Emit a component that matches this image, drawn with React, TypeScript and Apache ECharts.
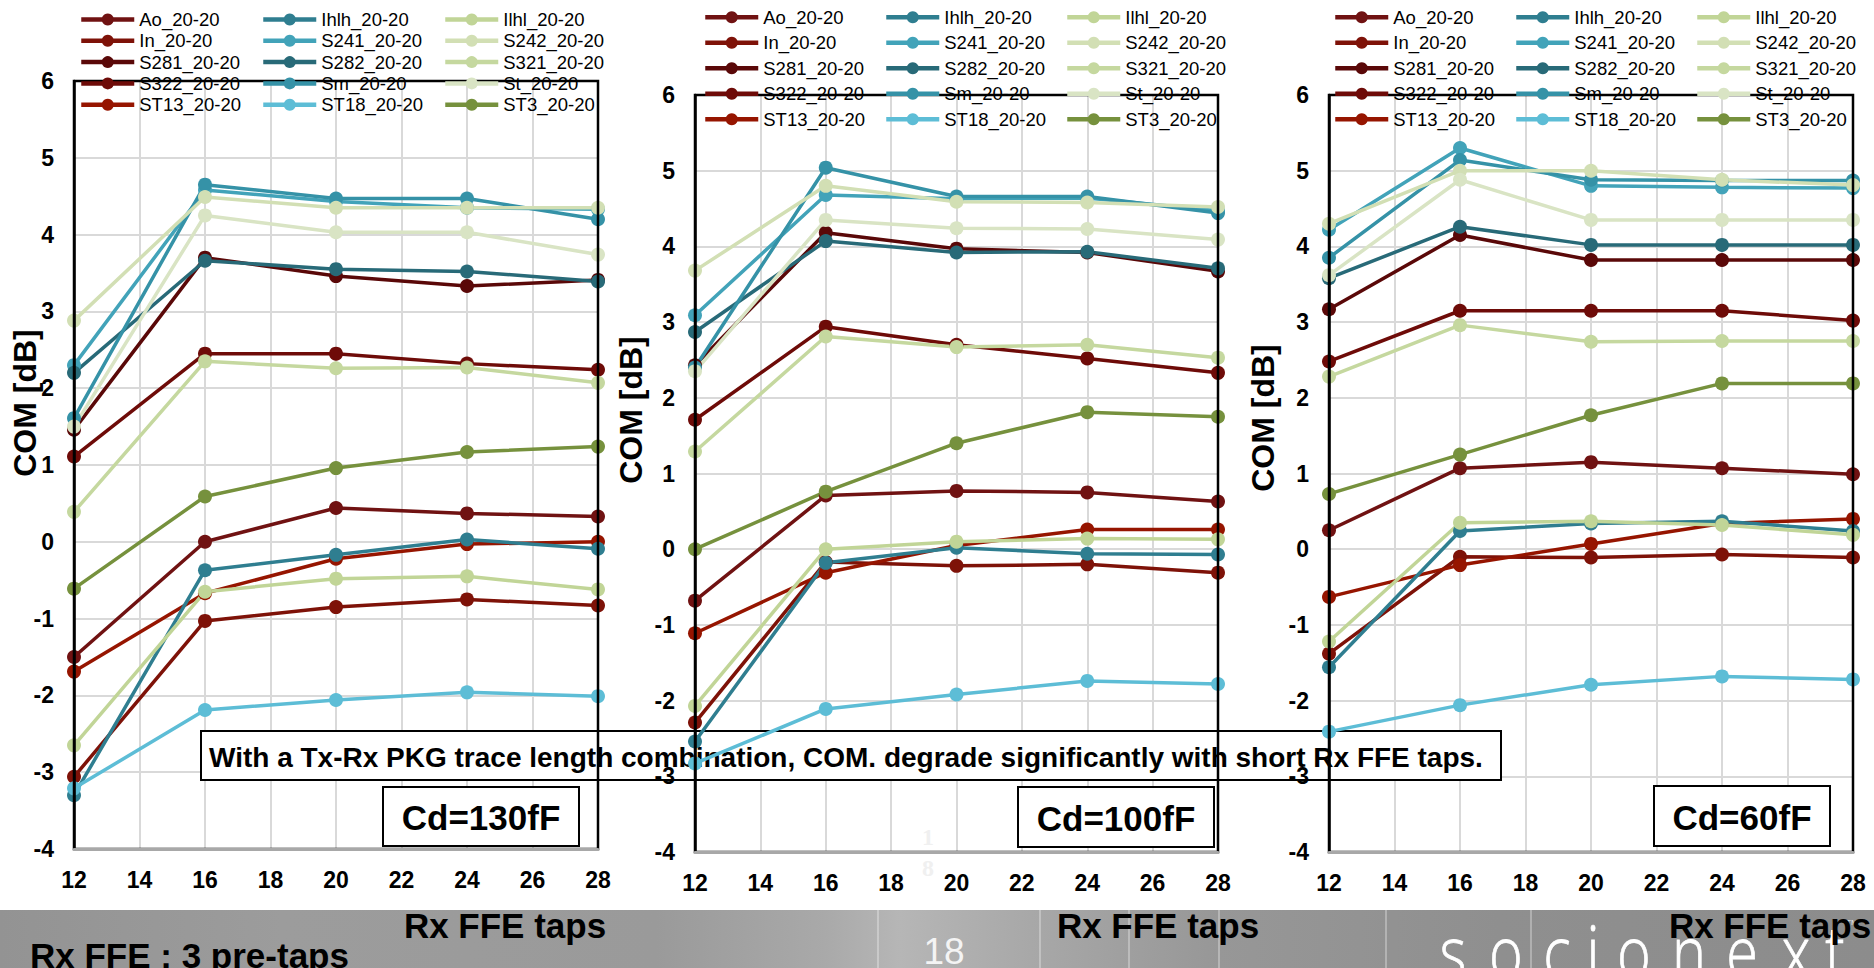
import React, { useEffect, useRef } from "react";
import * as echarts from "echarts";

// ---------------- data ----------------
const taps = [12, 16, 20, 24, 28];
const xTicks = { min: 12, max: 28, step: 2 };
const yTicks = { min: -4, max: 6, step: 1 };

const seriesNames = [
  "Ao_20-20", "In_20-20", "S281_20-20", "S322_20-20", "ST13_20-20",
  "Ihlh_20-20", "S241_20-20", "S282_20-20", "Sm_20-20", "ST18_20-20",
  "Ilhl_20-20", "S242_20-20", "S321_20-20", "St_20-20", "ST3_20-20",
];
const seriesColors = [
  "#701212", "#7E1208", "#5A0808", "#6E0B08", "#961500",
  "#2F7E90", "#42A3B9", "#286A78", "#3592A7", "#5DBDD6",
  "#C1D597", "#D2DFB4", "#C5D89F", "#D9E4C4", "#76913D",
];

// COM [dB] per series (same order as seriesNames), at taps 12,16,20,24,28
const com130: number[][] = [
  [-1.50, 0.00, 0.44, 0.37, 0.33],
  [-3.06, -1.03, -0.85, -0.75, -0.83],
  [1.46, 3.70, 3.46, 3.33, 3.41],
  [1.11, 2.45, 2.45, 2.32, 2.24],
  [-1.69, -0.67, -0.22, -0.03, 0.00],
  [-3.30, -0.37, -0.17, 0.03, -0.09],
  [2.30, 4.58, 4.43, 4.35, 4.33],
  [2.20, 3.66, 3.55, 3.52, 3.39],
  [1.61, 4.65, 4.47, 4.47, 4.20],
  [-3.21, -2.19, -2.06, -1.96, -2.01],
  [-2.65, -0.65, -0.48, -0.45, -0.62],
  [2.88, 4.49, 4.35, 4.35, 4.35],
  [0.39, 2.35, 2.26, 2.27, 2.07],
  [1.50, 4.25, 4.03, 4.03, 3.74],
  [-0.61, 0.59, 0.96, 1.17, 1.24],
];
const com100: number[][] = [
  [-0.68, 0.71, 0.77, 0.75, 0.63],
  [-2.29, -0.17, -0.22, -0.20, -0.31],
  [2.43, 4.18, 3.97, 3.92, 3.67],
  [1.71, 2.94, 2.70, 2.52, 2.33],
  [-1.11, -0.31, 0.05, 0.26, 0.26],
  [-2.54, -0.18, 0.02, -0.06, -0.07],
  [3.09, 4.68, 4.63, 4.64, 4.47],
  [2.87, 4.07, 3.92, 3.93, 3.71],
  [2.40, 5.04, 4.66, 4.66, 4.44],
  [-2.83, -2.11, -1.92, -1.74, -1.78],
  [-2.07, 0.00, 0.10, 0.14, 0.13],
  [3.68, 4.80, 4.59, 4.58, 4.52],
  [1.29, 2.81, 2.67, 2.70, 2.53],
  [2.35, 4.35, 4.24, 4.23, 4.09],
  [0.00, 0.76, 1.40, 1.81, 1.75],
];
const com60: number[][] = [
  [0.25, 1.07, 1.15, 1.07, 0.99],
  [-1.38, -0.10, -0.11, -0.07, -0.11],
  [3.17, 4.15, 3.82, 3.82, 3.82],
  [2.48, 3.15, 3.15, 3.15, 3.02],
  [-0.63, -0.21, 0.07, 0.34, 0.40],
  [-1.56, 0.24, 0.34, 0.37, 0.24],
  [4.22, 5.30, 4.80, 4.78, 4.77],
  [3.58, 4.26, 4.02, 4.02, 4.02],
  [3.85, 5.14, 4.88, 4.87, 4.87],
  [-2.41, -2.06, -1.79, -1.68, -1.72],
  [-1.22, 0.35, 0.37, 0.32, 0.19],
  [4.30, 5.00, 5.00, 4.88, 4.81],
  [2.28, 2.96, 2.74, 2.75, 2.75],
  [3.62, 4.88, 4.35, 4.35, 4.35],
  [0.73, 1.25, 1.77, 2.19, 2.19],
];
const panelData = [com130, com100, com60];
const panelLabels = ["Cd=130fF", "Cd=100fF", "Cd=60fF"];
const yAxisTitle = "COM [dB]";
const xAxisTitle = "Rx FFE taps";
const noteText = "With a Tx-Rx PKG trace length combination, COM. degrade significantly with short Rx FFE taps.";
const footerText = "Rx FFE : 3 pre-taps";
const pageNumber = "18";
const logoLetters = ["s", "o", "c", "i", "o", "n", "e", "x", "t"];

// ---------------- layout ----------------
const FONT = "'Liberation Sans', Arial, sans-serif";
const panelsLayout = [
  { left: 74, top: 81, width: 524, height: 768, legendLeft: [79, 261, 443], legendTop: 10, legendGap: 2.3,
    yTitle: [25, 403], xTitle: [505, 925], box: [383, 787, 196, 59] },
  { left: 695, top: 95, width: 523, height: 757, legendLeft: [703, 884, 1065], legendTop: 7.7, legendGap: 6.5,
    yTitle: [631, 410], xTitle: [1158, 925], box: [1018, 787, 196, 60] },
  { left: 1329, top: 95, width: 524, height: 757, legendLeft: [1333, 1514, 1695], legendTop: 7.7, legendGap: 6.5,
    yTitle: [1263, 418], xTitle: [1770, 925], box: [1654, 786, 176, 60] },
];
const logoX = [1453, 1506, 1557, 1593, 1634, 1689, 1742, 1796, 1835];

export default function App() {
  const ref = useRef<HTMLDivElement>(null);

  useEffect(() => {
    if (!ref.current) return;
    const chart = echarts.init(ref.current, undefined, { renderer: "svg" });

    const grids: any[] = [];
    const xAxes: any[] = [];
    const yAxes: any[] = [];
    const series: any[] = [];
    const legends: any[] = [];
    const graphics: any[] = [];

    panelsLayout.forEach((p, pi) => {
      grids.push({
        left: p.left, top: p.top, width: p.width, height: p.height,
        show: true, borderColor: "#000", borderWidth: 2.5, backgroundColor: "transparent", z: 3,
      });
      // axis set A: split lines only (below annotation boxes)
      xAxes.push({
        type: "value", gridIndex: pi, min: xTicks.min, max: xTicks.max, interval: xTicks.step, position: "bottom", z: 0,
        axisLine: { show: false }, axisTick: { show: false }, axisLabel: { show: false },
        splitLine: { show: true, lineStyle: { color: "#D9D9D9", width: 2 } },
      });
      yAxes.push({
        type: "value", gridIndex: pi, min: yTicks.min, max: yTicks.max, interval: yTicks.step, position: "left", z: 0,
        axisLine: { show: false }, axisTick: { show: false }, axisLabel: { show: false },
        splitLine: { show: true, lineStyle: { color: "#D9D9D9", width: 2 } },
      });
      // axis set B: lines and labels (above boxes)
      xAxes.push({
        type: "value", gridIndex: pi, min: xTicks.min, max: xTicks.max, interval: xTicks.step, position: "bottom", z: 4,
        axisLine: { show: true, onZero: false, lineStyle: { color: "#A8A8A8", width: 3 } },
        axisTick: { show: false }, splitLine: { show: false },
        axisLabel: { show: true, margin: 19, color: "#000", fontSize: 23, fontWeight: "bold", fontFamily: FONT },
      });
      yAxes.push({
        type: "value", gridIndex: pi, min: yTicks.min, max: yTicks.max, interval: yTicks.step, position: "left", z: 4,
        axisLine: { show: true, onZero: false, lineStyle: { color: "#000", width: 2.5 } },
        axisTick: { show: false }, splitLine: { show: false },
        axisLabel: { show: true, margin: 20, color: "#000", fontSize: 23, fontWeight: "bold", fontFamily: FONT },
      });

      panelData[pi].forEach((vals, si) => {
        series.push({
          type: "line",
          name: seriesNames[si],
          xAxisIndex: pi * 2 + 1,
          yAxisIndex: pi * 2 + 1,
          data: taps.map((t, k) => [t, vals[k]]),
          symbol: "circle",
          symbolSize: 14,
          showSymbol: true,
          z: 2,
          lineStyle: { color: seriesColors[si], width: 3.5 },
          itemStyle: { color: seriesColors[si] },
          emphasis: { disabled: true },
        });
      });

      for (let c = 0; c < 3; c++) {
        legends.push({
          orient: "vertical",
          left: p.legendLeft[c],
          top: p.legendTop,
          padding: 0,
          itemGap: p.legendGap,
          itemWidth: 53,
          itemHeight: 15,
          selectedMode: false,
          data: seriesNames.slice(c * 5, c * 5 + 5),
          lineStyle: { width: 4.5 },
          textStyle: { fontSize: 18.5, fontFamily: FONT, color: "#000", lineHeight: 18 },
          z: 6,
        });
      }

      graphics.push({
        type: "text", x: p.yTitle[0], y: p.yTitle[1], rotation: Math.PI / 2, z: 6,
        style: { text: yAxisTitle, fontSize: 32, fontWeight: "bold", fontFamily: FONT, fill: "#000", align: "center", verticalAlign: "middle" },
      });
      graphics.push({
        type: "rect", z: 1,
        shape: { x: p.box[0], y: p.box[1], width: p.box[2], height: p.box[3] },
        style: { fill: "#fff", stroke: "#000", lineWidth: 2 },
      });
      graphics.push({
        type: "text", x: p.box[0] + p.box[2] / 2, y: p.box[1] + p.box[3] / 2 + 1, z: 1,
        style: { text: panelLabels[pi], fontSize: 35, fontWeight: "bold", fontFamily: FONT, fill: "#000", align: "center", verticalAlign: "middle" },
      });
    });

    // annotation box
    graphics.push({
      type: "rect", z: 1,
      shape: { x: 201, y: 731, width: 1300, height: 49 },
      style: { fill: "#fff", stroke: "#000", lineWidth: 2 },
    });
    graphics.push({
      type: "text", x: 209, y: 757, z: 1,
      style: { text: noteText, fontSize: 28, fontWeight: "bold", fontFamily: FONT, fill: "#000", align: "left", verticalAlign: "middle" },
    });

    // faint ghost page number inside middle chart
    graphics.push({
      type: "text", x: 928, y: 837, z: 1,
      style: { text: "1", fontSize: 24, fontWeight: "bold", fontFamily: "'Liberation Serif', serif", fill: "#F0F0F0", align: "center", verticalAlign: "middle" },
    });
    graphics.push({
      type: "text", x: 928, y: 868, z: 1,
      style: { text: "8", fontSize: 24, fontWeight: "bold", fontFamily: "'Liberation Serif', serif", fill: "#F0F0F0", align: "center", verticalAlign: "middle" },
    });

    // bottom band
    graphics.push({
      type: "rect", z: 5,
      shape: { x: 0, y: 910, width: 1874, height: 58 },
      style: {
        fill: new echarts.graphic.LinearGradient(0, 0, 1, 0, [
          { offset: 0, color: "#939393" },
          { offset: 0.15, color: "#9C9C9C" },
          { offset: 0.35, color: "#9A9A9A" },
          { offset: 0.44, color: "#A9A9A9" },
          { offset: 0.48, color: "#B6B6B6" },
          { offset: 0.55, color: "#A8A8A8" },
          { offset: 0.65, color: "#979797" },
          { offset: 0.8, color: "#8F8F8F" },
          { offset: 1, color: "#8C8C8C" },
        ]),
      },
    });
    [878, 1040, 1129, 1219, 1386, 1531].forEach((lx) => {
      graphics.push({
        type: "line", z: 5,
        shape: { x1: lx, y1: 910, x2: lx, y2: 968 },
        style: { stroke: "rgba(255,255,255,0.3)", lineWidth: 2 },
      });
    });
    graphics.push({
      type: "text", x: 30, y: 955, z: 7,
      style: { text: footerText, fontSize: 35, fontWeight: "bold", fontFamily: FONT, fill: "#000", align: "left", verticalAlign: "middle" },
    });
    graphics.push({
      type: "text", x: 944, y: 951, z: 7,
      style: { text: pageNumber, fontSize: 37, fontWeight: "normal", fontFamily: FONT, fill: "#F4F4F4", align: "center", verticalAlign: "middle" },
    });
    logoLetters.forEach((ch, i) => {
      graphics.push({
        type: "text", x: logoX[i], y: 986, z: 6, scaleX: 0.8, scaleY: 1,
        style: { text: ch, fontSize: 72, fontWeight: 300, fontFamily: "'Open Sans', 'Noto Sans', sans-serif", fill: "#FFFFFF", stroke: "#FFFFFF", lineWidth: 0.8, align: "center", verticalAlign: "bottom" },
      });
    });
    graphics.push({
      type: "text", x: 1852, y: 922, z: 6,
      style: { text: "TM", fontSize: 8, fontFamily: FONT, fill: "#E8E8E8", align: "center", verticalAlign: "middle" },
    });
    panelsLayout.forEach((p) => {
      graphics.push({
        type: "text", x: p.xTitle[0], y: p.xTitle[1], z: 8,
        style: { text: xAxisTitle, fontSize: 35, fontWeight: "bold", fontFamily: FONT, fill: "#000", align: "center", verticalAlign: "middle" },
      });
    });

    chart.setOption({
      animation: false,
      backgroundColor: "#fff",
      grid: grids,
      xAxis: xAxes,
      yAxis: yAxes,
      legend: legends,
      series,
      graphic: { elements: graphics },
    });

    return () => chart.dispose();
  }, []);

  return (
    <div
      ref={ref}
      style={{ position: "fixed", left: 0, top: 0, width: 1874, height: 968 }}
    />
  );
}
